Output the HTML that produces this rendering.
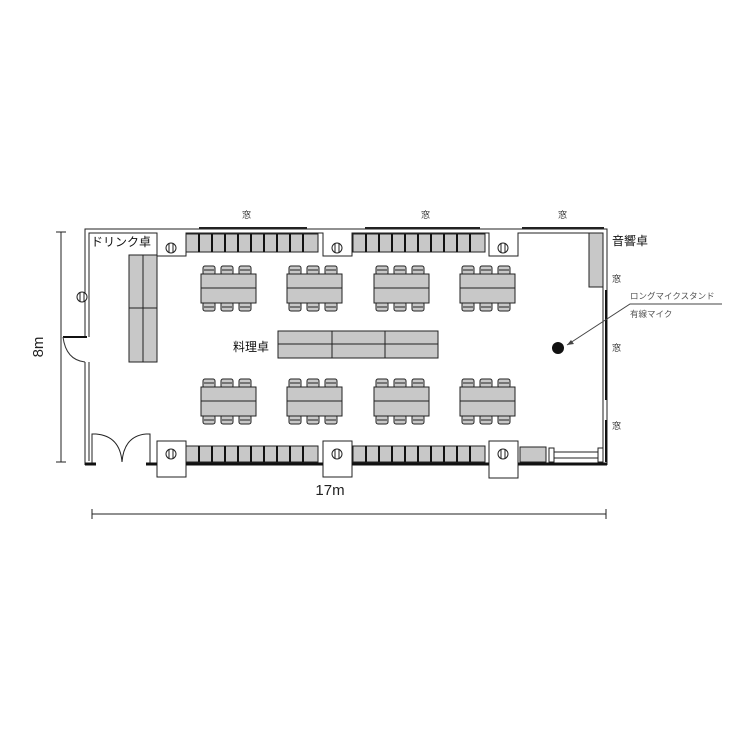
<!DOCTYPE html>
<html><head><meta charset="utf-8"><style>
html,body{margin:0;padding:0;background:#fff;}
svg{display:block;}
text{font-family:"Liberation Sans","Noto Sans CJK JP",sans-serif;}
</style></head><body>
<svg width="750" height="750" viewBox="0 0 750 750" xmlns="http://www.w3.org/2000/svg">
<g fill="none" stroke="#222" stroke-width="1">
<!-- outer walls -->
<path d="M85,337 V229 H607 V465"/>
<path d="M89,337 V233 H157 V256 H186 V233 H323 V256 H352 V233 H489 V256 H518 V233 H603 V461"/>
<path d="M85,362 V465"/>
<path d="M89,362 V461"/>
</g>
<!-- door left -->
<path d="M63,337 H87" stroke="#111" stroke-width="2"/>
<path d="M63,337 Q66,360 85,362" fill="none" stroke="#333"/>
<!-- bottom wall -->
<g fill="none" stroke="#222">
<path d="M92,463 V434 H96"/>
<path d="M150,463 V434 H146"/>
<path d="M96,434 Q120,436 122,462 Q124,436 146,434"/>
<rect x="157" y="441" width="29" height="36"/>
<rect x="323" y="441" width="29" height="36"/>
<rect x="489" y="441" width="29" height="37"/>
</g>
<path d="M85,464 H96 M146,464 H157 M186,464 H323 M352,464 H489 M518,464 H607" stroke="#111" stroke-width="3"/>
<!-- windows top -->
<path d="M199,228 H307 M365,228 H480 M522,228 H604" stroke="#222" stroke-width="2"/>
<path d="M606,290 V400" stroke="#111" stroke-width="2"/>
<path d="M606,420 V462" stroke="#111" stroke-width="2"/>
<g font-size="9" fill="#333">
<text x="242" y="218">窓</text><text x="421" y="218">窓</text><text x="558" y="218">窓</text>
<text x="612" y="282">窓</text><text x="612" y="351">窓</text><text x="612" y="429">窓</text>
</g>
<!-- benches -->
<g stroke="#222" fill="#c8c8c8">
<rect x="186" y="234" width="132" height="18"/>
<rect x="353" y="234" width="132" height="18"/>
<rect x="186" y="446" width="132" height="16"/>
<rect x="353" y="446" width="132" height="16"/>
</g>
<g stroke="#111" stroke-width="2">
<path d="M199,234V252M212,234V252M225,234V252M238,234V252M251,234V252M264,234V252M277,234V252M290,234V252M303,234V252"/>
<path d="M366,234V252M379,234V252M392,234V252M405,234V252M418,234V252M431,234V252M444,234V252M457,234V252M470,234V252"/>
<path d="M199,446V462M212,446V462M225,446V462M238,446V462M251,446V462M264,446V462M277,446V462M290,446V462M303,446V462"/>
<path d="M366,446V462M379,446V462M392,446V462M405,446V462M418,446V462M431,446V462M444,446V462M457,446V462M470,446V462"/>
</g>
<!-- pillars -->
<g stroke="#222" fill="#fff">
<circle cx="171" cy="248" r="5"/><circle cx="337" cy="248" r="5"/><circle cx="503" cy="248" r="5"/>
<circle cx="82" cy="297" r="5"/>
<circle cx="171" cy="454" r="5"/><circle cx="337" cy="454" r="5"/><circle cx="503" cy="454" r="5"/>
</g>
<g stroke="#222"><path d="M169,243V253M173,243V253M335,243V253M339,243V253M501,243V253M505,243V253M80,292V302M84,292V302M169,449V459M173,449V459M335,449V459M339,449V459M501,449V459M505,449V459"/></g>
<!-- drink table -->
<g stroke="#222" fill="#c8c8c8">
<rect x="129" y="255" width="28" height="107"/>
<rect x="589" y="233" width="14" height="54"/>
<rect x="520" y="447" width="26" height="15"/>
<rect x="278" y="331" width="160" height="27"/>
</g>
<path d="M143,255V362M129,308H157M332,331V358M385,331V358M278,344H438" stroke="#222"/>
<g stroke="#222" fill="#fff"><rect x="549" y="448" width="5" height="14"/><rect x="598" y="448" width="5" height="14"/><path d="M554,452H598M554,458H598"/></g>
<!-- dining tables -->
<defs>
<g id="t">
<g stroke="#222" fill="#c8c8c8">
<rect x="203" y="266" width="12" height="9" rx="2"/><rect x="221" y="266" width="12" height="9" rx="2"/><rect x="239" y="266" width="12" height="9" rx="2"/>
<rect x="203" y="302" width="12" height="9" rx="2"/><rect x="221" y="302" width="12" height="9" rx="2"/><rect x="239" y="302" width="12" height="9" rx="2"/>
<rect x="201" y="274" width="55" height="29"/>
</g>
<path d="M201,288H256M204,270H214M222,270H232M240,270H250M204,307H214M222,307H232M240,307H250" stroke="#222"/>
</g>
</defs>
<use href="#t"/><use href="#t" x="86"/><use href="#t" x="173"/><use href="#t" x="259"/>
<use href="#t" y="113"/><use href="#t" x="86" y="113"/><use href="#t" x="173" y="113"/><use href="#t" x="259" y="113"/>
<!-- labels -->
<g fill="#111" font-size="12">
<text x="91" y="246">ドリンク卓</text>
<text x="233" y="351">料理卓</text>
<text x="612" y="245">音響卓</text>
</g>
<!-- mic -->
<circle cx="558" cy="348" r="6" fill="#111"/>
<path d="M567,345 L630,304 H722" stroke="#444" fill="none"/>
<path d="M567,345 l7,-1 l-3,-4z" fill="#444"/>
<g fill="#555" font-size="8.5"><text x="630" y="299">ロングマイクスタンド</text><text x="630" y="317">有線マイク</text></g>
<!-- dimensions -->
<path d="M61,232V462M56,232H66M56,462H66M92,514H606M92,509V519M606,509V519" stroke="#222"/>
<text x="43" y="347" font-size="15" fill="#222" transform="rotate(-90 43 347)" text-anchor="middle">8m</text>
<text x="330" y="495" font-size="15" fill="#222" text-anchor="middle">17m</text>
</svg>
</body></html>
